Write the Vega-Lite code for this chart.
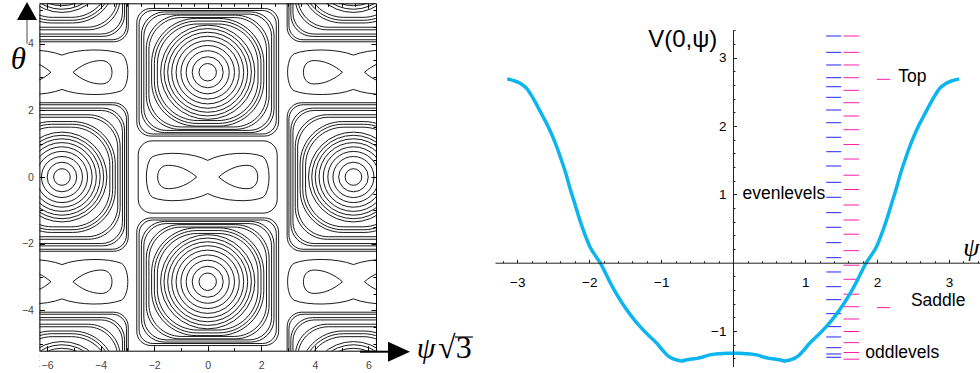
{
"$schema": "https://vega.github.io/schema/vega-lite/v6.json",
"width": 980, "height": 373, "autosize": "none", "padding": 0, "background": "white",
"config": {"view": {"stroke": null}, "font": "Liberation Sans"},
"resolve": {"scale": {"x": "independent", "y": "independent", "size": "independent", "shape": "independent", "color": "independent"}, "axis": {"x": "independent", "y": "independent"}},
"datasets": {
"contours": [
{"x":0,"y":3.1416,"r":0.325,"s":"o"},{"x":0,"y":3.1416,"r":0.579,"s":"o"},{"x":0,"y":3.1416,"r":0.803,"s":"o"},{"x":0,"y":3.1416,"r":1.0,"s":"o"},{"x":0,"y":3.1416,"r":1.18,"s":"o"},{"x":0,"y":3.1416,"r":1.344,"s":"o"},{"x":0,"y":3.1416,"r":1.493,"s":"o"},{"x":0,"y":3.1416,"r":1.631,"s":"o"},{"x":0,"y":3.1416,"r":1.758,"s":"o"},{"x":0,"y":3.1416,"r":1.878,"s":"c1"},{"x":0,"y":3.1416,"r":1.99,"s":"c1"},{"x":0,"y":3.1416,"r":2.094,"s":"c1"},{"x":0,"y":3.1416,"r":2.195,"s":"c2"},{"x":0,"y":3.1416,"r":2.292,"s":"c2"},{"x":0,"y":3.1416,"r":2.385,"s":"c3"},{"x":0,"y":3.1416,"r":2.475,"s":"c3"},{"x":0,"y":3.1416,"r":2.561,"s":"c4"},{"x":0,"y":3.1416,"r":2.647,"s":"c4"},
{"x":0,"y":-3.1416,"r":0.325,"s":"o"},{"x":0,"y":-3.1416,"r":0.579,"s":"o"},{"x":0,"y":-3.1416,"r":0.803,"s":"o"},{"x":0,"y":-3.1416,"r":1.0,"s":"o"},{"x":0,"y":-3.1416,"r":1.18,"s":"o"},{"x":0,"y":-3.1416,"r":1.344,"s":"o"},{"x":0,"y":-3.1416,"r":1.493,"s":"o"},{"x":0,"y":-3.1416,"r":1.631,"s":"o"},{"x":0,"y":-3.1416,"r":1.758,"s":"o"},{"x":0,"y":-3.1416,"r":1.878,"s":"c1"},{"x":0,"y":-3.1416,"r":1.99,"s":"c1"},{"x":0,"y":-3.1416,"r":2.094,"s":"c1"},{"x":0,"y":-3.1416,"r":2.195,"s":"c2"},{"x":0,"y":-3.1416,"r":2.292,"s":"c2"},{"x":0,"y":-3.1416,"r":2.385,"s":"c3"},{"x":0,"y":-3.1416,"r":2.475,"s":"c3"},{"x":0,"y":-3.1416,"r":2.561,"s":"c4"},{"x":0,"y":-3.1416,"r":2.647,"s":"c4"},
{"x":-5.441,"y":0,"r":0.31,"s":"o"},{"x":-5.441,"y":0,"r":0.552,"s":"o"},{"x":-5.441,"y":0,"r":0.765,"s":"o"},{"x":-5.441,"y":0,"r":0.956,"s":"o"},{"x":-5.441,"y":0,"r":1.127,"s":"o"},{"x":-5.441,"y":0,"r":1.284,"s":"o"},{"x":-5.441,"y":0,"r":1.426,"s":"o"},{"x":-5.441,"y":0,"r":1.557,"s":"o"},{"x":-5.441,"y":0,"r":1.676,"s":"o"},{"x":-5.441,"y":0,"r":1.788,"s":"l1"},{"x":-5.441,"y":0,"r":1.893,"s":"l1"},{"x":-5.441,"y":0,"r":1.99,"s":"l1"},{"x":-5.441,"y":0,"r":2.083,"s":"l2"},{"x":-5.441,"y":0,"r":2.172,"s":"l2"},{"x":-5.441,"y":0,"r":2.258,"s":"l3"},{"x":-5.441,"y":0,"r":2.337,"s":"l3"},{"x":-5.441,"y":0,"r":2.408,"s":"l4"},{"x":-5.441,"y":0,"r":2.475,"s":"l4"},
{"x":5.441,"y":0,"r":0.31,"s":"o"},{"x":5.441,"y":0,"r":0.552,"s":"o"},{"x":5.441,"y":0,"r":0.765,"s":"o"},{"x":5.441,"y":0,"r":0.956,"s":"o"},{"x":5.441,"y":0,"r":1.127,"s":"o"},{"x":5.441,"y":0,"r":1.284,"s":"o"},{"x":5.441,"y":0,"r":1.426,"s":"o"},{"x":5.441,"y":0,"r":1.557,"s":"o"},{"x":5.441,"y":0,"r":1.676,"s":"o"},{"x":5.441,"y":0,"r":1.788,"s":"l1"},{"x":5.441,"y":0,"r":1.893,"s":"l1"},{"x":5.441,"y":0,"r":1.99,"s":"l1"},{"x":5.441,"y":0,"r":2.083,"s":"l2"},{"x":5.441,"y":0,"r":2.172,"s":"l2"},{"x":5.441,"y":0,"r":2.258,"s":"l3"},{"x":5.441,"y":0,"r":2.337,"s":"l3"},{"x":5.441,"y":0,"r":2.408,"s":"l4"},{"x":5.441,"y":0,"r":2.475,"s":"l4"},
{"x":-5.441,"y":6.283,"r":0.31,"s":"o"},{"x":-5.441,"y":6.283,"r":0.552,"s":"o"},{"x":-5.441,"y":6.283,"r":0.765,"s":"o"},{"x":-5.441,"y":6.283,"r":0.956,"s":"o"},{"x":-5.441,"y":6.283,"r":1.127,"s":"o"},{"x":-5.441,"y":6.283,"r":1.284,"s":"o"},{"x":-5.441,"y":6.283,"r":1.426,"s":"o"},{"x":-5.441,"y":6.283,"r":1.557,"s":"o"},{"x":-5.441,"y":6.283,"r":1.676,"s":"o"},{"x":-5.441,"y":6.283,"r":1.788,"s":"l1"},{"x":-5.441,"y":6.283,"r":1.893,"s":"l1"},{"x":-5.441,"y":6.283,"r":1.99,"s":"l1"},{"x":-5.441,"y":6.283,"r":2.083,"s":"l2"},{"x":-5.441,"y":6.283,"r":2.172,"s":"l2"},{"x":-5.441,"y":6.283,"r":2.258,"s":"l3"},{"x":-5.441,"y":6.283,"r":2.337,"s":"l3"},{"x":-5.441,"y":6.283,"r":2.408,"s":"l4"},{"x":-5.441,"y":6.283,"r":2.475,"s":"l4"},
{"x":5.441,"y":6.283,"r":0.31,"s":"o"},{"x":5.441,"y":6.283,"r":0.552,"s":"o"},{"x":5.441,"y":6.283,"r":0.765,"s":"o"},{"x":5.441,"y":6.283,"r":0.956,"s":"o"},{"x":5.441,"y":6.283,"r":1.127,"s":"o"},{"x":5.441,"y":6.283,"r":1.284,"s":"o"},{"x":5.441,"y":6.283,"r":1.426,"s":"o"},{"x":5.441,"y":6.283,"r":1.557,"s":"o"},{"x":5.441,"y":6.283,"r":1.676,"s":"o"},{"x":5.441,"y":6.283,"r":1.788,"s":"l1"},{"x":5.441,"y":6.283,"r":1.893,"s":"l1"},{"x":5.441,"y":6.283,"r":1.99,"s":"l1"},{"x":5.441,"y":6.283,"r":2.083,"s":"l2"},{"x":5.441,"y":6.283,"r":2.172,"s":"l2"},{"x":5.441,"y":6.283,"r":2.258,"s":"l3"},{"x":5.441,"y":6.283,"r":2.337,"s":"l3"},{"x":5.441,"y":6.283,"r":2.408,"s":"l4"},{"x":5.441,"y":6.283,"r":2.475,"s":"l4"},
{"x":-5.441,"y":-6.283,"r":0.31,"s":"o"},{"x":-5.441,"y":-6.283,"r":0.552,"s":"o"},{"x":-5.441,"y":-6.283,"r":0.765,"s":"o"},{"x":-5.441,"y":-6.283,"r":0.956,"s":"o"},{"x":-5.441,"y":-6.283,"r":1.127,"s":"o"},{"x":-5.441,"y":-6.283,"r":1.284,"s":"o"},{"x":-5.441,"y":-6.283,"r":1.426,"s":"o"},{"x":-5.441,"y":-6.283,"r":1.557,"s":"o"},{"x":-5.441,"y":-6.283,"r":1.676,"s":"o"},{"x":-5.441,"y":-6.283,"r":1.788,"s":"l1"},{"x":-5.441,"y":-6.283,"r":1.893,"s":"l1"},{"x":-5.441,"y":-6.283,"r":1.99,"s":"l1"},{"x":-5.441,"y":-6.283,"r":2.083,"s":"l2"},{"x":-5.441,"y":-6.283,"r":2.172,"s":"l2"},{"x":-5.441,"y":-6.283,"r":2.258,"s":"l3"},{"x":-5.441,"y":-6.283,"r":2.337,"s":"l3"},{"x":-5.441,"y":-6.283,"r":2.408,"s":"l4"},{"x":-5.441,"y":-6.283,"r":2.475,"s":"l4"},
{"x":5.441,"y":-6.283,"r":0.31,"s":"o"},{"x":5.441,"y":-6.283,"r":0.552,"s":"o"},{"x":5.441,"y":-6.283,"r":0.765,"s":"o"},{"x":5.441,"y":-6.283,"r":0.956,"s":"o"},{"x":5.441,"y":-6.283,"r":1.127,"s":"o"},{"x":5.441,"y":-6.283,"r":1.284,"s":"o"},{"x":5.441,"y":-6.283,"r":1.426,"s":"o"},{"x":5.441,"y":-6.283,"r":1.557,"s":"o"},{"x":5.441,"y":-6.283,"r":1.676,"s":"o"},{"x":5.441,"y":-6.283,"r":1.788,"s":"l1"},{"x":5.441,"y":-6.283,"r":1.893,"s":"l1"},{"x":5.441,"y":-6.283,"r":1.99,"s":"l1"},{"x":5.441,"y":-6.283,"r":2.083,"s":"l2"},{"x":5.441,"y":-6.283,"r":2.172,"s":"l2"},{"x":5.441,"y":-6.283,"r":2.258,"s":"l3"},{"x":5.441,"y":-6.283,"r":2.337,"s":"l3"},{"x":5.441,"y":-6.283,"r":2.408,"s":"l4"},{"x":5.441,"y":-6.283,"r":2.475,"s":"l4"},
{"x":-1.14,"y":0,"r":0.728,"s":"lbL"},{"x":1.14,"y":0,"r":0.728,"s":"lbR"},{"x":0,"y":0,"r":2.296,"s":"pn"},{"x":0,"y":0,"r":2.594,"s":"ot"},
{"x":-6.581,"y":3.1416,"r":0.728,"s":"lbL"},{"x":-4.301,"y":3.1416,"r":0.728,"s":"lbR"},{"x":-5.441,"y":3.1416,"r":2.464,"s":"pns"},
{"x":4.301,"y":3.1416,"r":0.728,"s":"lbL"},{"x":6.581,"y":3.1416,"r":0.728,"s":"lbR"},{"x":5.441,"y":3.1416,"r":2.464,"s":"pns"},
{"x":-6.581,"y":-3.1416,"r":0.728,"s":"lbL"},{"x":-4.301,"y":-3.1416,"r":0.728,"s":"lbR"},{"x":-5.441,"y":-3.1416,"r":2.464,"s":"pns"},
{"x":4.301,"y":-3.1416,"r":0.728,"s":"lbL"},{"x":6.581,"y":-3.1416,"r":0.728,"s":"lbR"},{"x":5.441,"y":-3.1416,"r":2.464,"s":"pns"}
],
"levels": [
{"V":3.317,"k":"e"},{"V":3.078,"k":"e"},{"V":2.893,"k":"e"},{"V":2.707,"k":"e"},{"V":2.575,"k":"e"},{"V":2.42,"k":"e"},{"V":2.234,"k":"e"},{"V":2.048,"k":"e"},{"V":1.835,"k":"e"},{"V":1.624,"k":"e"},{"V":1.415,"k":"e"},{"V":1.176,"k":"e"},{"V":0.957,"k":"e"},{"V":0.732,"k":"e"},{"V":0.518,"k":"e"},{"V":0.293,"k":"e"},{"V":0.073,"k":"e"},{"V":-0.136,"k":"e"},{"V":-0.351,"k":"e"},{"V":-0.541,"k":"e"},{"V":-0.746,"k":"e"},{"V":-0.936,"k":"e"},{"V":-1.087,"k":"e"},{"V":-1.244,"k":"e"},{"V":-1.336,"k":"e"},{"V":-1.384,"k":"e"},
{"V":3.317,"k":"o"},{"V":3.078,"k":"o"},{"V":2.893,"k":"o"},{"V":2.707,"k":"o"},{"V":2.522,"k":"o"},{"V":2.341,"k":"o"},{"V":2.146,"k":"o"},{"V":1.946,"k":"o"},{"V":1.729,"k":"o"},{"V":1.517,"k":"o"},{"V":1.28,"k":"o"},{"V":1.071,"k":"o"},{"V":0.844,"k":"o"},{"V":0.625,"k":"o"},{"V":0.417,"k":"o"},{"V":0.176,"k":"o"},{"V":-0.037,"k":"o"},{"V":-0.243,"k":"o"},{"V":-0.461,"k":"o"},{"V":-0.644,"k":"o"},{"V":-0.824,"k":"o"},{"V":-1.007,"k":"o"},{"V":-1.17,"k":"o"},{"V":-1.314,"k":"o"},{"V":-1.412,"k":"o"}
],
"marks": [{"name":"Top","V":2.683},{"name":"Saddle","V":-0.658}],
"curve": [
{"psi":-3.14,"V":2.69},{"psi":-3.05,"V":2.665},{"psi":-2.96,"V":2.625},{"psi":-2.87,"V":2.55},{"psi":-2.8,"V":2.44},{"psi":-2.73,"V":2.31},{"psi":-2.65,"V":2.15},{"psi":-2.57,"V":1.99},{"psi":-2.48,"V":1.77},{"psi":-2.4,"V":1.54},{"psi":-2.33,"V":1.32},{"psi":-2.265,"V":1.08},{"psi":-2.2,"V":0.86},{"psi":-2.13,"V":0.62},{"psi":-2.06,"V":0.41},{"psi":-1.99,"V":0.23},{"psi":-1.92,"V":0.11},{"psi":-1.85,"V":0.0},{"psi":-1.78,"V":-0.14},{"psi":-1.71,"V":-0.29},{"psi":-1.62,"V":-0.46},{"psi":-1.525,"V":-0.62},{"psi":-1.41,"V":-0.79},{"psi":-1.29,"V":-0.94},{"psi":-1.17,"V":-1.07},{"psi":-1.06,"V":-1.18},{"psi":-0.99,"V":-1.27},{"psi":-0.92,"V":-1.35},{"psi":-0.85,"V":-1.4},{"psi":-0.78,"V":-1.425},{"psi":-0.72,"V":-1.438},{"psi":-0.66,"V":-1.425},{"psi":-0.58,"V":-1.41},{"psi":-0.5,"V":-1.4},{"psi":-0.42,"V":-1.38},{"psi":-0.34,"V":-1.352},{"psi":-0.26,"V":-1.338},{"psi":-0.17,"V":-1.332},{"psi":-0.08,"V":-1.327},{"psi":0,"V":-1.326},
{"psi":0.08,"V":-1.327},{"psi":0.17,"V":-1.332},{"psi":0.26,"V":-1.338},{"psi":0.34,"V":-1.352},{"psi":0.42,"V":-1.38},{"psi":0.5,"V":-1.4},{"psi":0.58,"V":-1.41},{"psi":0.66,"V":-1.425},{"psi":0.72,"V":-1.438},{"psi":0.78,"V":-1.425},{"psi":0.85,"V":-1.4},{"psi":0.92,"V":-1.35},{"psi":0.99,"V":-1.27},{"psi":1.06,"V":-1.18},{"psi":1.17,"V":-1.07},{"psi":1.29,"V":-0.94},{"psi":1.41,"V":-0.79},{"psi":1.525,"V":-0.62},{"psi":1.62,"V":-0.46},{"psi":1.71,"V":-0.29},{"psi":1.78,"V":-0.14},{"psi":1.85,"V":0.0},{"psi":1.92,"V":0.11},{"psi":1.99,"V":0.23},{"psi":2.06,"V":0.41},{"psi":2.13,"V":0.62},{"psi":2.2,"V":0.86},{"psi":2.265,"V":1.08},{"psi":2.33,"V":1.32},{"psi":2.4,"V":1.54},{"psi":2.48,"V":1.77},{"psi":2.57,"V":1.99},{"psi":2.65,"V":2.15},{"psi":2.73,"V":2.31},{"psi":2.8,"V":2.44},{"psi":2.87,"V":2.55},{"psi":2.96,"V":2.625},{"psi":3.05,"V":2.665},{"psi":3.14,"V":2.69}
]
},
"layer": [
{"data": {"name": "contours"},
 "mark": {"type": "point", "filled": false, "color": "#000", "strokeWidth": 0.9, "opacity": 1},
 "encoding": {
  "x": {"field": "x", "type": "quantitative", "scale": {"domain": [-6.283, 6.283], "range": [39.4, 376], "nice": false, "zero": false},
        "axis": {"orient": "bottom", "offset": -22.3, "values": [-6,-5.5,-5,-4.5,-4,-3.5,-3,-2.5,-2,-1.5,-1,-0.5,0,0.5,1,1.5,2,2.5,3,3.5,4,4.5,5,5.5,6], "format": "d", "labelExpr": "datum.value % 2 === 0 ? datum.label : ''", "tickSize": {"condition": {"test": "datum.value % 2 === 0", "value": -5}, "value": -3}, "labelPadding": 15, "labelFontSize": 10.5, "labelColor": "#444", "labelFont": "Liberation Sans", "domainColor": "#000", "tickColor": "#000", "title": null, "grid": false, "zindex": 1, "labelFlush": false, "labelOverlap": false, "labelBound": false}},
  "y": {"field": "y", "type": "quantitative", "scale": {"domain": [-5.21, 5.21], "range": [350.7, 3.3], "nice": false, "zero": false},
        "axis": {"orient": "left", "offset": -39.4, "values": [-5,-4.5,-4,-3.5,-3,-2.5,-2,-1.5,-1,-0.5,0,0.5,1,1.5,2,2.5,3,3.5,4,4.5,5], "format": "d", "labelExpr": "datum.value % 2 === 0 ? datum.label : ''", "tickSize": {"condition": {"test": "datum.value % 2 === 0", "value": -5}, "value": -3}, "labelPadding": 11, "labelFontSize": 10.5, "labelColor": "#444", "labelFont": "Liberation Sans", "domainColor": "#000", "tickColor": "#000", "title": null, "grid": false, "zindex": 1, "labelFlush": false, "labelOverlap": false, "labelBound": false}},
  "size": {"field": "r", "type": "quantitative", "scale": {"type": "pow", "exponent": 2, "domain": [0, 3], "range": [0, 25836.6]}, "legend": null},
  "shape": {"field": "s", "type": "nominal", "legend": null, "scale": {
    "domain": ["o","c1","c2","c3","c4","l1","l2","l3","l4","lbL","lbR","pn","ot","pns"],
    "range": ["circle",
     "M-0.2 -0.96 L0.2 -0.96 A0.8 0.8 0 0 1 1 -0.16 L1 0.16 A0.8 0.8 0 0 1 0.2 0.96 L-0.2 0.96 A0.8 0.8 0 0 1 -1 0.16 L-1 -0.16 A0.8 0.8 0 0 1 -0.2 -0.96 Z",
     "M-0.45 -0.93 L0.45 -0.93 A0.55 0.55 0 0 1 1 -0.38 L1 0.38 A0.55 0.55 0 0 1 0.45 0.93 L-0.45 0.93 A0.55 0.55 0 0 1 -1 0.38 L-1 -0.38 A0.55 0.55 0 0 1 -0.45 -0.93 Z",
     "M-0.65 -0.91 L0.65 -0.91 A0.35 0.35 0 0 1 1 -0.56 L1 0.56 A0.35 0.35 0 0 1 0.65 0.91 L-0.65 0.91 A0.35 0.35 0 0 1 -1 0.56 L-1 -0.56 A0.35 0.35 0 0 1 -0.65 -0.91 Z",
     "M-0.8 -0.9 L0.8 -0.9 A0.2 0.2 0 0 1 1 -0.7 L1 0.7 A0.2 0.2 0 0 1 0.8 0.9 L-0.8 0.9 A0.2 0.2 0 0 1 -1 0.7 L-1 -0.7 A0.2 0.2 0 0 1 -0.8 -0.9 Z",
     "M-0.2 -1.04 L0.2 -1.04 A0.8 0.8 0 0 1 1 -0.24 L1 0.24 A0.8 0.8 0 0 1 0.2 1.04 L-0.2 1.04 A0.8 0.8 0 0 1 -1 0.24 L-1 -0.24 A0.8 0.8 0 0 1 -0.2 -1.04 Z",
     "M-0.45 -1.07 L0.45 -1.07 A0.55 0.55 0 0 1 1 -0.52 L1 0.52 A0.55 0.55 0 0 1 0.45 1.07 L-0.45 1.07 A0.55 0.55 0 0 1 -1 0.52 L-1 -0.52 A0.55 0.55 0 0 1 -0.45 -1.07 Z",
     "M-0.65 -1.1 L0.65 -1.1 A0.35 0.35 0 0 1 1 -0.75 L1 0.75 A0.35 0.35 0 0 1 0.65 1.1 L-0.65 1.1 A0.35 0.35 0 0 1 -1 0.75 L-1 -0.75 A0.35 0.35 0 0 1 -0.65 -1.1 Z",
     "M-0.78 -1.12 L0.78 -1.12 A0.22 0.22 0 0 1 1 -0.9 L1 0.9 A0.22 0.22 0 0 1 0.78 1.12 L-0.78 1.12 A0.22 0.22 0 0 1 -1 0.9 L-1 -0.9 A0.22 0.22 0 0 1 -0.78 -1.12 Z",
     "M1 0 C0.6 -0.35 0.1 -0.6 -0.45 -0.6 C-0.85 -0.6 -1 -0.3 -1 0 C-1 0.3 -0.85 0.6 -0.45 0.6 C0.1 0.6 0.6 0.35 1 0 Z",
     "M-1 0 C-0.6 -0.35 -0.1 -0.6 0.45 -0.6 C0.85 -0.6 1 -0.3 1 0 C1 0.3 0.85 0.6 0.45 0.6 C-0.1 0.6 -0.6 0.35 -1 0 Z",
     "M0 -0.27 C0.25 -0.4 0.7 -0.42 0.9 -0.33 C1.03 -0.24 1.03 0.24 0.9 0.33 C0.7 0.42 0.25 0.4 0 0.27 C-0.25 0.4 -0.7 0.42 -0.9 0.33 C-1.03 0.24 -1.03 -0.24 -0.9 -0.33 C-0.7 -0.42 -0.25 -0.4 0 -0.27 Z",
     "M-0.8 -0.52 L0.8 -0.52 A0.2 0.2 0 0 1 1 -0.32 L1 0.32 A0.2 0.2 0 0 1 0.8 0.52 L-0.8 0.52 A0.2 0.2 0 0 1 -1 0.32 L-1 -0.32 A0.2 0.2 0 0 1 -0.8 -0.52 Z",
     "M0 -0.26 C0.25 -0.36 0.7 -0.36 0.9 -0.28 C1.03 -0.2 1.03 0.2 0.9 0.28 C0.7 0.36 0.25 0.36 0 0.26 C-0.25 0.36 -0.7 0.36 -0.9 0.28 C-1.03 0.2 -1.03 -0.2 -0.9 -0.28 C-0.7 -0.36 -0.25 -0.36 0 -0.26 Z"]}}
 }},
{"data": {"values": [{}]},
 "mark": {"type": "rect", "color": "white", "opacity": 1},
 "encoding": {
  "x": {"datum": -9, "type": "quantitative", "scale": {"domain": [-6.283, 6.283], "range": [39.4, 376], "nice": false, "zero": false},
        "axis": {"orient": "top", "offset": -3.3, "values": [-6,-5.5,-5,-4.5,-4,-3.5,-3,-2.5,-2,-1.5,-1,-0.5,0,0.5,1,1.5,2,2.5,3,3.5,4,4.5,5,5.5,6], "labels": false, "tickSize": {"condition": {"test": "datum.value % 2 === 0", "value": -5}, "value": -3}, "domainColor": "#000", "tickColor": "#000", "title": null, "grid": false, "zindex": 1}},
  "x2": {"datum": -6.283},
  "y": {"datum": -7, "type": "quantitative", "scale": {"domain": [-5.21, 5.21], "range": [350.7, 3.3], "nice": false, "zero": false},
        "axis": {"orient": "right", "offset": -604, "values": [-5,-4.5,-4,-3.5,-3,-2.5,-2,-1.5,-1,-0.5,0,0.5,1,1.5,2,2.5,3,3.5,4,4.5,5], "labels": false, "tickSize": {"condition": {"test": "datum.value % 2 === 0", "value": -5}, "value": -3}, "domainColor": "#000", "tickColor": "#000", "title": null, "grid": false, "zindex": 1}},
  "y2": {"datum": 7}
 }},
{"data": {"values": [{}]},
 "mark": {"type": "rect", "color": "white", "opacity": 1},
 "encoding": {
  "x": {"datum": 6.283, "type": "quantitative", "scale": {"domain": [-6.283, 6.283], "range": [39.4, 376], "nice": false, "zero": false}, "axis": null},
  "x2": {"datum": 10.69},
  "y": {"datum": -7, "type": "quantitative", "scale": {"domain": [-5.21, 5.21], "range": [350.7, 3.3], "nice": false, "zero": false}, "axis": null},
  "y2": {"datum": 7}
 }},
{"data": {"values": [{}]},
 "mark": {"type": "rect", "color": "white", "opacity": 1},
 "encoding": {
  "x": {"datum": -6.283, "type": "quantitative", "scale": {"domain": [-6.283, 6.283], "range": [39.4, 376], "nice": false, "zero": false}, "axis": null},
  "x2": {"datum": 6.283},
  "y": {"datum": 5.21, "type": "quantitative", "scale": {"domain": [-5.21, 5.21], "range": [350.7, 3.3], "nice": false, "zero": false}, "axis": null},
  "y2": {"datum": 7}
 }},
{"data": {"values": [{}]},
 "mark": {"type": "rect", "color": "white", "opacity": 1},
 "encoding": {
  "x": {"datum": -6.283, "type": "quantitative", "scale": {"domain": [-6.283, 6.283], "range": [39.4, 376], "nice": false, "zero": false}, "axis": null},
  "x2": {"datum": 6.283},
  "y": {"datum": -7, "type": "quantitative", "scale": {"domain": [-5.21, 5.21], "range": [350.7, 3.3], "nice": false, "zero": false}, "axis": null},
  "y2": {"datum": -5.21}
 }},
{"data": {"values": [{}]},
 "mark": {"type": "rule", "color": "#888", "strokeWidth": 1.5},
 "encoding": {
  "x": {"datum": -6.746, "type": "quantitative", "scale": {"domain": [-6.283, 6.283], "range": [39.4, 376], "nice": false, "zero": false}, "axis": null},
  "y": {"datum": 4.0, "type": "quantitative", "scale": {"domain": [-5.21, 5.21], "range": [350.7, 3.3], "nice": false, "zero": false}, "axis": null},
  "y2": {"datum": 4.75}
 }},
{"data": {"values": [{}]},
 "mark": {"type": "rule", "color": "#000", "strokeWidth": 2},
 "encoding": {
  "x": {"datum": 5.686, "type": "quantitative", "scale": {"domain": [-6.283, 6.283], "range": [39.4, 376], "nice": false, "zero": false}, "axis": null},
  "x2": {"datum": 6.75},
  "y": {"datum": -5.24, "type": "quantitative", "scale": {"domain": [-5.21, 5.21], "range": [350.7, 3.3], "nice": false, "zero": false}, "axis": null}
 }},
{"data": {"values": [{}]},
 "mark": {"type": "rule", "color": "#000", "strokeWidth": 1.2},
 "encoding": {
  "x": {"datum": 9.23, "type": "quantitative", "scale": {"domain": [-6.283, 6.283], "range": [39.4, 376], "nice": false, "zero": false}, "axis": null},
  "x2": {"datum": 9.9},
  "y": {"datum": -4.8, "type": "quantitative", "scale": {"domain": [-5.21, 5.21], "range": [350.7, 3.3], "nice": false, "zero": false}, "axis": null}
 }},
{"data": {"values": [{}]},
 "mark": {"type": "point", "shape": "M0 -0.9 L1 0.9 L-1 0.9 Z", "size": 400, "filled": true, "color": "#000", "opacity": 1, "strokeWidth": 0},
 "encoding": {
  "x": {"datum": -6.746, "type": "quantitative", "scale": {"domain": [-6.283, 6.283], "range": [39.4, 376], "nice": false, "zero": false}, "axis": null},
  "y": {"datum": 4.979, "type": "quantitative", "scale": {"domain": [-5.21, 5.21], "range": [350.7, 3.3], "nice": false, "zero": false}, "axis": null}
 }},
{"data": {"values": [{}]},
 "mark": {"type": "point", "shape": "M1.1 0 L-1.1 -1 L-1.1 1 Z", "size": 400, "filled": true, "color": "#000", "opacity": 1, "strokeWidth": 0},
 "encoding": {
  "x": {"datum": 7.142, "type": "quantitative", "scale": {"domain": [-6.283, 6.283], "range": [39.4, 376], "nice": false, "zero": false}, "axis": null},
  "y": {"datum": -5.24, "type": "quantitative", "scale": {"domain": [-5.21, 5.21], "range": [350.7, 3.3], "nice": false, "zero": false}, "axis": null}
 }},
{"data": {"values": [{"t": "θ"}]},
 "mark": {"type": "text", "font": "Liberation Serif", "fontStyle": "italic", "fontSize": 31, "align": "center", "baseline": "middle", "color": "#000"},
 "encoding": {
  "text": {"field": "t"},
  "x": {"datum": -7.07, "type": "quantitative", "scale": {"domain": [-6.283, 6.283], "range": [39.4, 376], "nice": false, "zero": false}, "axis": null},
  "y": {"datum": 3.507, "type": "quantitative", "scale": {"domain": [-5.21, 5.21], "range": [350.7, 3.3], "nice": false, "zero": false}, "axis": null}
 }},
{"data": {"values": [{"t": "ψ"}]},
 "mark": {"type": "text", "font": "Liberation Serif", "fontStyle": "italic", "fontSize": 30, "align": "center", "baseline": "middle", "color": "#000"},
 "encoding": {
  "text": {"field": "t"},
  "x": {"datum": 8.15, "type": "quantitative", "scale": {"domain": [-6.283, 6.283], "range": [39.4, 376], "nice": false, "zero": false}, "axis": null},
  "y": {"datum": -5.17, "type": "quantitative", "scale": {"domain": [-5.21, 5.21], "range": [350.7, 3.3], "nice": false, "zero": false}, "axis": null}
 }},
{"data": {"values": [{"t": "√3"}]},
 "mark": {"type": "text", "font": "Liberation Serif", "fontSize": 32, "align": "left", "baseline": "middle", "color": "#000"},
 "encoding": {
  "text": {"field": "t"},
  "x": {"datum": 8.6, "type": "quantitative", "scale": {"domain": [-6.283, 6.283], "range": [39.4, 376], "nice": false, "zero": false}, "axis": null},
  "y": {"datum": -5.13, "type": "quantitative", "scale": {"domain": [-5.21, 5.21], "range": [350.7, 3.3], "nice": false, "zero": false}, "axis": null}
 }},
{"data": {"name": "levels"},
 "transform": [{"filter": "datum.k === 'e'"}],
 "mark": {"type": "rule", "color": "#2424ff", "strokeWidth": 1},
 "encoding": {
  "x": {"datum": 1.293, "type": "quantitative", "scale": {"domain": [-3.31, 3.43], "range": [495, 980], "nice": false, "zero": false},
        "axis": {"orient": "bottom", "offset": -110.3, "values": [-3.2,-2.8,-2.6,-2.4,-2.2,-1.8,-1.6,-1.4,-1.2,-0.8,-0.6,-0.4,-0.2,0.2,0.4,0.6,0.8,1.2,1.4,1.6,1.8,2.2,2.4,2.6,2.8,3.2,3.4], "labels": false, "domain": false, "tickSize": -2, "tickColor": "#222", "title": null, "grid": false, "zindex": 1}},
  "x2": {"datum": 1.501},
  "y": {"field": "V", "type": "quantitative", "scale": {"domain": [-1.522, 3.405], "range": [366.7, 30], "nice": false, "zero": false},
        "axis": {"orient": "left", "offset": -733, "values": [-1.4,-1.2,-0.8,-0.6,-0.4,-0.2,0.2,0.4,0.6,0.8,1.2,1.4,1.6,1.8,2.2,2.4,2.6,2.8,3.2,3.4], "labels": false, "domain": false, "tickSize": -2, "tickColor": "#222", "title": null, "grid": false, "zindex": 1}}
 }},
{"data": {"name": "levels"},
 "transform": [{"filter": "datum.k === 'o'"}],
 "mark": {"type": "rule", "color": "#ff1fa5", "strokeWidth": 1},
 "encoding": {
  "x": {"datum": 1.533, "type": "quantitative", "scale": {"domain": [-3.31, 3.43], "range": [495, 980], "nice": false, "zero": false}, "axis": null},
  "x2": {"datum": 1.751},
  "y": {"field": "V", "type": "quantitative", "scale": {"domain": [-1.522, 3.405], "range": [366.7, 30], "nice": false, "zero": false}, "axis": null}
 }},
{"data": {"name": "marks"},
 "mark": {"type": "rule", "color": "#ff1fa5", "strokeWidth": 1},
 "encoding": {
  "x": {"datum": 1.997, "type": "quantitative", "scale": {"domain": [-3.31, 3.43], "range": [495, 980], "nice": false, "zero": false}, "axis": null},
  "x2": {"datum": 2.182},
  "y": {"field": "V", "type": "quantitative", "scale": {"domain": [-1.522, 3.405], "range": [366.7, 30], "nice": false, "zero": false}, "axis": null}
 }},
{"data": {"name": "curve"},
 "mark": {"type": "line", "color": "#0cb4f0", "strokeWidth": 3.5, "interpolate": "monotone"},
 "encoding": {
  "x": {"field": "psi", "type": "quantitative", "scale": {"domain": [-3.31, 3.43], "range": [495, 980], "nice": false, "zero": false},
        "axis": {"orient": "bottom", "offset": -110.3, "values": [-3,-2,-1,1,2,3], "tickSize": -3.5, "labelPadding": 16, "labelFontSize": 13.5, "labelColor": "#000", "labelFont": "Liberation Sans", "domainColor": "#222", "tickColor": "#222", "title": null, "grid": false, "zindex": 1, "labelFlush": false, "labelOverlap": false, "labelBound": false}},
  "y": {"field": "V", "type": "quantitative", "scale": {"domain": [-1.522, 3.405], "range": [366.7, 30], "nice": false, "zero": false},
        "axis": {"orient": "left", "offset": -733, "values": [-1,1,2,3], "tickSize": -3.5, "labelPadding": 10.5, "labelFontSize": 13.5, "labelColor": "#000", "labelFont": "Liberation Sans", "domainColor": "#222", "tickColor": "#222", "title": null, "grid": false, "zindex": 1, "labelFlush": false, "labelOverlap": false, "labelBound": false}}
 }},
{"data": {"values": [{"t": "V(0,ψ)"}]},
 "mark": {"type": "text", "fontSize": 24, "align": "left", "baseline": "alphabetic", "color": "#000"},
 "encoding": {
  "text": {"field": "t"},
  "x": {"datum": -1.181, "type": "quantitative", "scale": {"domain": [-3.31, 3.43], "range": [495, 980], "nice": false, "zero": false}, "axis": null},
  "y": {"datum": 3.151, "type": "quantitative", "scale": {"domain": [-1.522, 3.405], "range": [366.7, 30], "nice": false, "zero": false}, "axis": null}
 }},
{"data": {"values": [{"t": "ψ"}]},
 "mark": {"type": "text", "font": "Liberation Serif", "fontStyle": "italic", "fontSize": 26, "align": "center", "baseline": "middle", "color": "#000"},
 "encoding": {
  "text": {"field": "t"},
  "x": {"datum": 3.308, "type": "quantitative", "scale": {"domain": [-3.31, 3.43], "range": [495, 980], "nice": false, "zero": false}, "axis": null},
  "y": {"datum": 0.215, "type": "quantitative", "scale": {"domain": [-1.522, 3.405], "range": [366.7, 30], "nice": false, "zero": false}, "axis": null}
 }},
{"data": {"values": [{"t": "evenlevels"}]},
 "mark": {"type": "text", "fontSize": 17.5, "align": "right", "baseline": "alphabetic", "color": "#000"},
 "encoding": {
  "text": {"field": "t"},
  "x": {"datum": 1.279, "type": "quantitative", "scale": {"domain": [-3.31, 3.43], "range": [495, 980], "nice": false, "zero": false}, "axis": null},
  "y": {"datum": 0.928, "type": "quantitative", "scale": {"domain": [-1.522, 3.405], "range": [366.7, 30], "nice": false, "zero": false}, "axis": null}
 }},
{"data": {"values": [{"t": "oddlevels"}]},
 "mark": {"type": "text", "fontSize": 17.5, "align": "left", "baseline": "alphabetic", "color": "#000"},
 "encoding": {
  "text": {"field": "t"},
  "x": {"datum": 1.835, "type": "quantitative", "scale": {"domain": [-3.31, 3.43], "range": [495, 980], "nice": false, "zero": false}, "axis": null},
  "y": {"datum": -1.399, "type": "quantitative", "scale": {"domain": [-1.522, 3.405], "range": [366.7, 30], "nice": false, "zero": false}, "axis": null}
 }},
{"data": {"values": [{"t": "Top"}]},
 "mark": {"type": "text", "fontSize": 17.5, "align": "left", "baseline": "alphabetic", "color": "#000"},
 "encoding": {
  "text": {"field": "t"},
  "x": {"datum": 2.293, "type": "quantitative", "scale": {"domain": [-3.31, 3.43], "range": [495, 980], "nice": false, "zero": false}, "axis": null},
  "y": {"datum": 2.648, "type": "quantitative", "scale": {"domain": [-1.522, 3.405], "range": [366.7, 30], "nice": false, "zero": false}, "axis": null}
 }},
{"data": {"values": [{"t": "Saddle"}]},
 "mark": {"type": "text", "fontSize": 17.5, "align": "left", "baseline": "alphabetic", "color": "#000"},
 "encoding": {
  "text": {"field": "t"},
  "x": {"datum": 2.47, "type": "quantitative", "scale": {"domain": [-3.31, 3.43], "range": [495, 980], "nice": false, "zero": false}, "axis": null},
  "y": {"datum": -0.634, "type": "quantitative", "scale": {"domain": [-1.522, 3.405], "range": [366.7, 30], "nice": false, "zero": false}, "axis": null}
 }}
]
}
